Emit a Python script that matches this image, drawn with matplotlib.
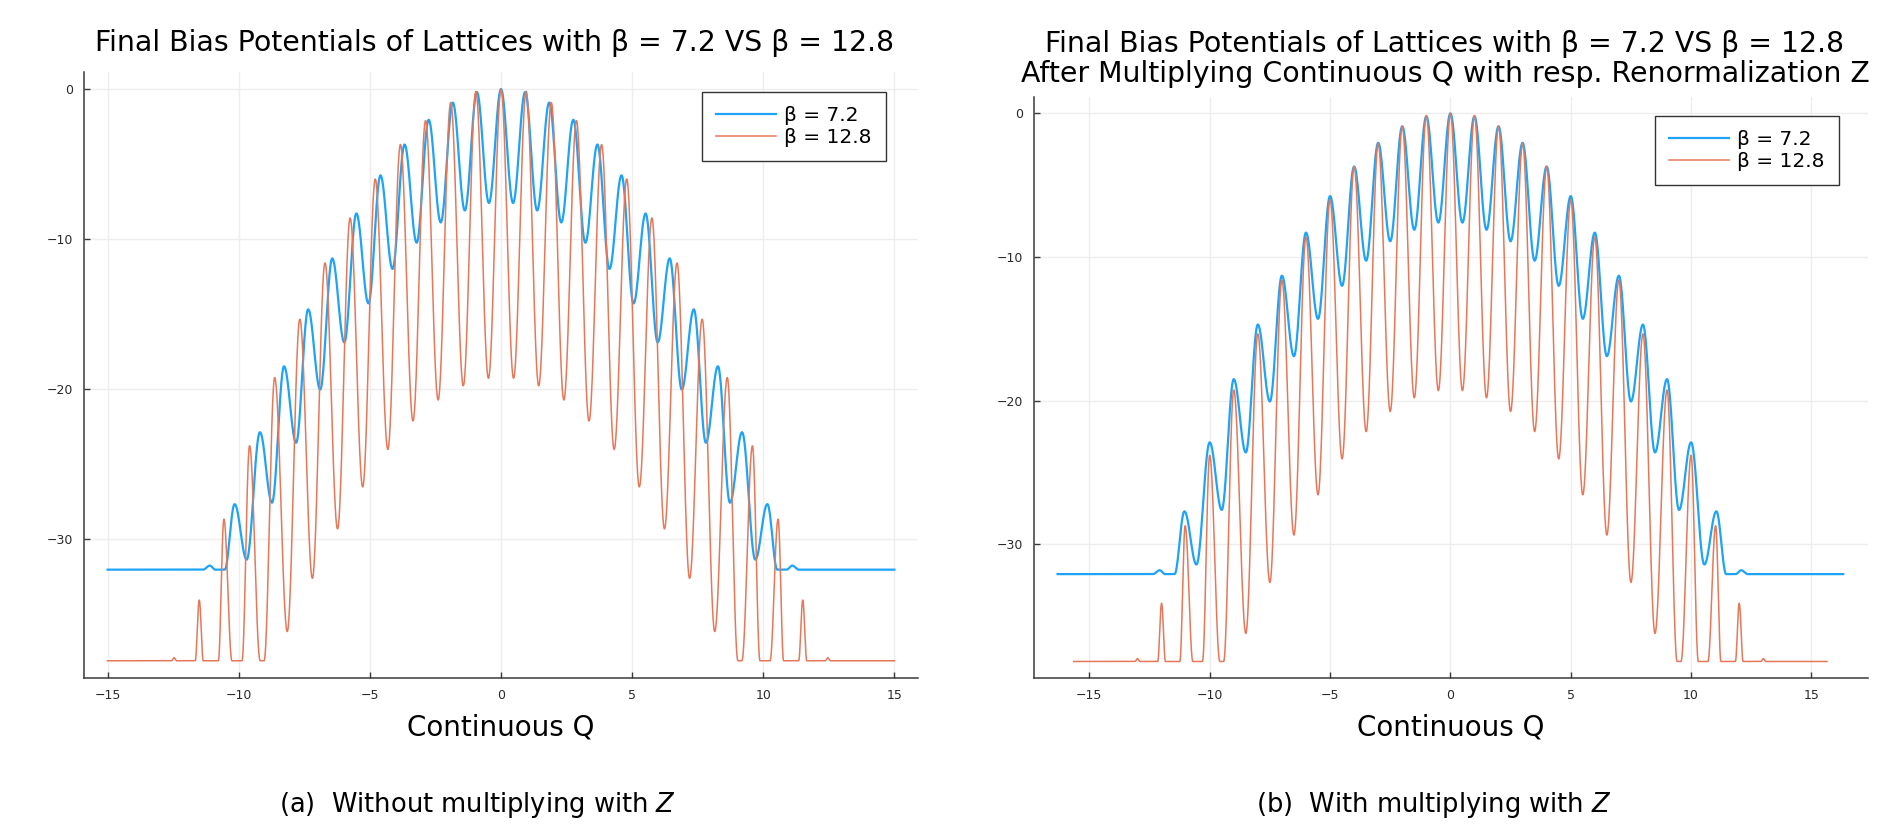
import numpy as np
import matplotlib
matplotlib.use("Agg")
import matplotlib.pyplot as plt

# ========== DATOS ==========
# extremos del potencial en Q renormalizado (lado positivo, se refleja en Q<0)
q_beta72 = [0, 0.5, 1, 1.5, 2, 2.5, 3, 3.5, 4, 4.5, 5, 5.5, 6, 6.5, 7, 7.5,
            8, 8.5, 9, 9.5, 10, 10.55, 11.05, 11.46, 11.85, 12.08, 12.36, 16.32]
v_beta72 = [0, -7.6, -0.2, -8.1, -0.9, -8.9, -2.05, -10.25, -3.7, -12.0,
            -5.76, -14.3, -8.3, -16.9, -11.3, -20.05, -14.7, -23.6, -18.5,
            -27.6, -22.9, -31.4, -27.7, -32.07, -32.07, -31.8, -32.07, -32.07]

q_beta128 = [0, 0.5, 1, 1.5, 2, 2.5, 3, 3.5, 4, 4.5, 5, 5.5, 6, 6.5, 7, 7.5,
             8, 8.5, 9, 9.42, 9.58, 10, 10.3, 10.7, 11.02, 11.24, 11.84,
             12.0, 12.16, 12.9, 13.0, 13.1, 15.65]
v_beta128 = [0, -19.3, -0.15, -19.8, -0.9, -20.75, -2.1, -22.15, -3.7, -24.05,
             -6.0, -26.55, -8.6, -29.35, -11.6, -32.65, -15.35, -36.2, -19.25,
             -38.15, -38.15, -23.8, -38.15, -38.15, -28.7, -38.15, -38.15,
             -34.1, -38.15, -38.15, -37.95, -38.15, -38.15]

# renormalización Z de cada red
Z_beta72 = 1.088
Z_beta128 = 1.043

labels = ["β = 7.2", "β = 12.8"]
colors = ["#1ea3f6", "#e6785a"]
widths = [1.6, 1.1]

x_ticks = [-15, -10, -5, 0, 5, 10, 15]
y_ticks = [0, -10, -20, -30]


def curva(q_ext, v_ext, n=40):
    """Traza suave entre extremos consecutivos (forma coseno)."""
    q = np.array(q_ext, dtype=float)
    v = np.array(v_ext, dtype=float)
    q = np.concatenate([-q[::-1], q[1:]])
    v = np.concatenate([v[::-1], v[1:]])
    xs, ys = [], []
    t = np.linspace(0, 1, n, endpoint=False)
    for i in range(len(q) - 1):
        xs.append(q[i] + (q[i + 1] - q[i]) * t)
        ys.append(v[i] + (v[i + 1] - v[i]) * (1 - np.cos(np.pi * t)) / 2)
    xs.append([q[-1]])
    ys.append([v[-1]])
    return np.concatenate(xs), np.concatenate(ys)


def estilo(ax, xlim, anchor):
    ax.set_xlim(*xlim)
    ax.set_ylim(-39.3, 1.14)
    ax.set_xticks(x_ticks)
    ax.set_yticks(y_ticks)
    ax.set_xticklabels([str(t).replace("-", "\u2212") for t in x_ticks])
    ax.set_yticklabels([str(t).replace("-", "\u2212") for t in y_ticks])
    ax.grid(True, color="#eeeeee", linewidth=1.0)
    ax.set_axisbelow(True)
    for s in ["top", "right"]:
        ax.spines[s].set_visible(False)
    for s in ["left", "bottom"]:
        ax.spines[s].set_color("#3a3a3a")
        ax.spines[s].set_linewidth(1.1)
    ax.tick_params(direction="in", length=4, width=1, color="#3a3a3a",
                   labelsize=9, labelcolor="#2a2a2a", pad=8)
    ax.set_xlabel("Continuous Q", fontsize=20, labelpad=8)
    ax.legend(loc="upper right", bbox_to_anchor=anchor, borderaxespad=0,
              fontsize=14.5, frameon=True, fancybox=False,
              edgecolor="#333333", framealpha=1, handlelength=3.0,
              handletextpad=0.4, labelspacing=0.15, borderpad=0.7)
    ax.get_legend().get_frame().set_linewidth(1.0)


plt.rcParams["font.family"] = "DejaVu Sans"
fig = plt.figure(figsize=(19.01, 8.27), dpi=100)

ax1 = fig.add_axes([84 / 1901, 1 - 678 / 827, 834 / 1901, 606 / 827])
ax2 = fig.add_axes([1034 / 1901, 1 - 678 / 827, 834 / 1901, 581 / 827])

series = [(q_beta72, v_beta72, Z_beta72), (q_beta128, v_beta128, Z_beta128)]

# (a) Q continuo sin multiplicar por Z
for (qe, ve, z), lab, c, lw in zip(series, labels, colors, widths):
    x, y = curva(qe, ve)
    ax1.plot(x / z, y, color=c, linewidth=lw, label=lab)
estilo(ax1, (-15.9, 15.9), (0.9616, 0.967))

# (b) Q continuo multiplicado por Z
for (qe, ve, z), lab, c, lw in zip(series, labels, colors, widths):
    x, y = curva(qe, ve)
    ax2.plot(x, y, color=c, linewidth=lw, label=lab)
estilo(ax2, (-17.3, 17.35), (0.9652, 0.967))

# títulos y subtítulos
fig.text(494.5 / 1901, 1 - 43 / 827,
         "Final Bias Potentials of Lattices with β = 7.2 VS β = 12.8",
         ha="center", va="center", fontsize=20.4)
fig.text(1445 / 1901, 1 - 59 / 827,
         "Final Bias Potentials of Lattices with β = 7.2 VS β = 12.8\n"
         "After Multiplying Continuous Q with resp. Renormalization Z",
         ha="center", va="center", fontsize=20.4, linespacing=1.12)

fig.text(478 / 1901, 1 - 805 / 827, "(a)  Without multiplying with $Z$",
         ha="center", va="center", fontsize=18.5)
fig.text(1434 / 1901, 1 - 805 / 827, "(b)  With multiplying with $Z$",
         ha="center", va="center", fontsize=18.5)

fig.savefig("out.png", dpi=100, facecolor="white")
plt.close(fig)
